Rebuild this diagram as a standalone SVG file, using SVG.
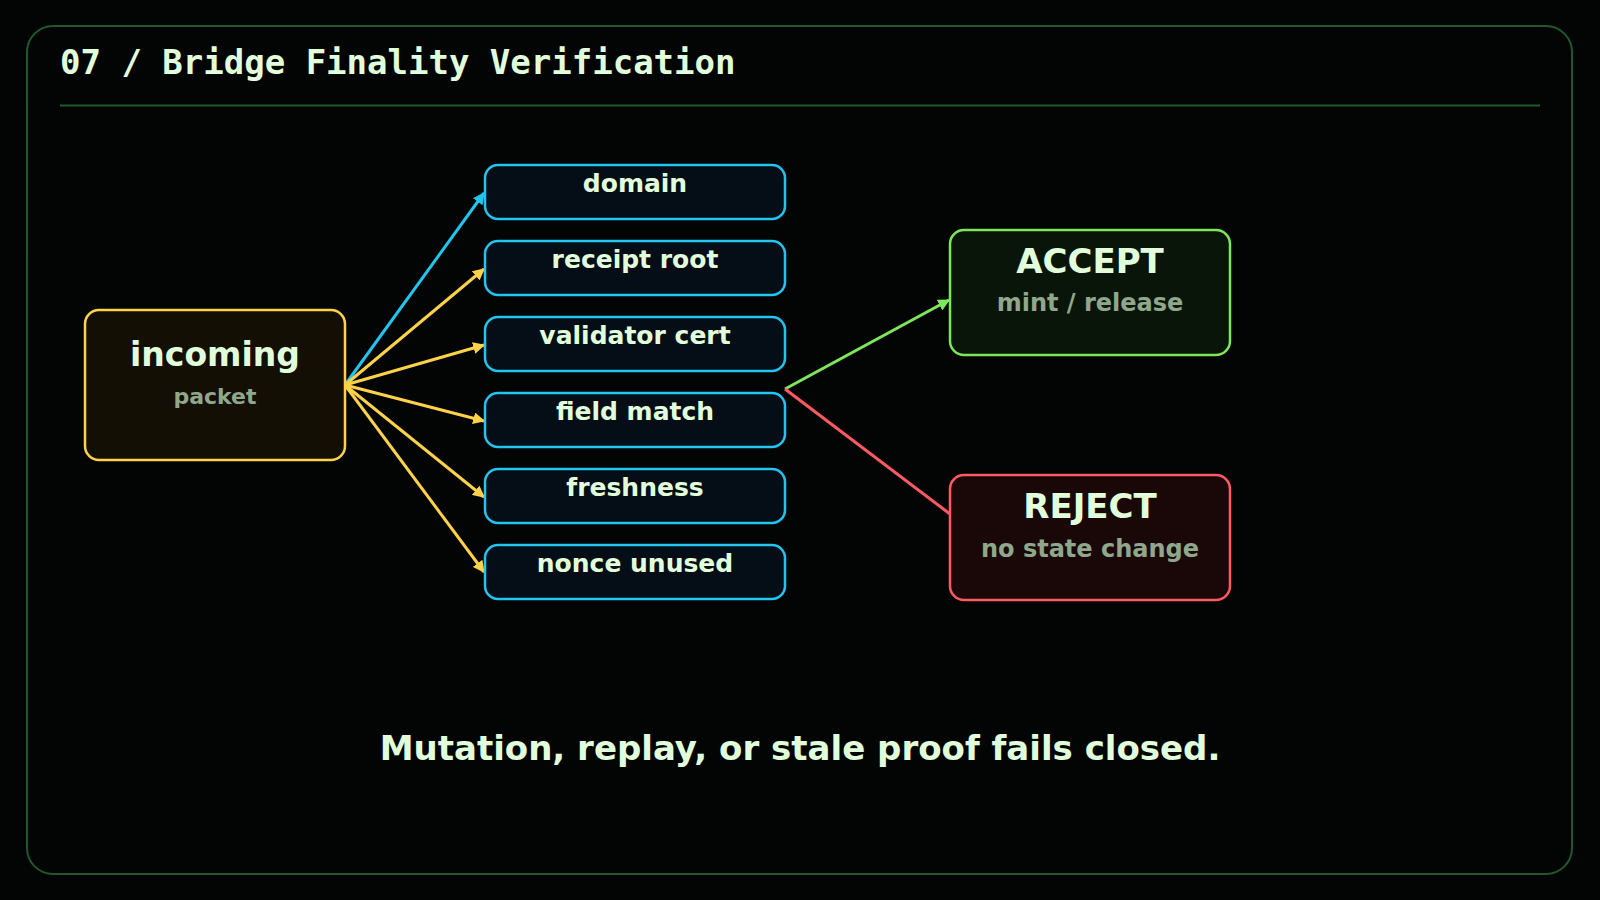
<svg xmlns="http://www.w3.org/2000/svg" width="1600" height="900" viewBox="0 0 1600 900">
<defs>
<style>
.t{font-family:"DejaVu Sans",Verdana,sans-serif;font-weight:bold;text-anchor:middle}
.main{fill:#e2ffdc}
.sub{fill:#8fa88c}
.chk rect{fill:#050e16;stroke:#22c4f0;stroke-width:2.5}
.edge{fill:none;stroke-width:3}
</style>
<marker id="ay" viewBox="0 0 10 10" refX="9" refY="5" markerWidth="4" markerHeight="4" orient="auto"><path d="M0,0 L10,5 L0,10 Z" fill="#ffd24a"/></marker>
<marker id="ac" viewBox="0 0 10 10" refX="9" refY="5" markerWidth="4" markerHeight="4" orient="auto"><path d="M0,0 L10,5 L0,10 Z" fill="#22c4f0"/></marker>
<marker id="ag" viewBox="0 0 10 10" refX="9" refY="5" markerWidth="4" markerHeight="4" orient="auto"><path d="M0,0 L10,5 L0,10 Z" fill="#7ee65a"/></marker>
</defs>
<rect width="1600" height="900" fill="#020503"/>
<rect x="27" y="26" width="1545" height="848" rx="26" fill="none" stroke="#1e5a2c" stroke-width="2"/>
<text x="60" y="74" font-family="'DejaVu Sans Mono',monospace" font-weight="bold" font-size="34" fill="#e2ffdc">07 / Bridge Finality Verification</text>
<line x1="60" y1="105.5" x2="1540" y2="105.5" stroke="#1e5a2c" stroke-width="2"/>

<g id="connectors">
<line class="edge" x1="345" y1="385" x2="484" y2="193" stroke="#22c4f0" marker-end="url(#ac)"/>
<line class="edge" x1="345" y1="385" x2="484" y2="269" stroke="#ffd24a" marker-end="url(#ay)"/>
<line class="edge" x1="345" y1="385" x2="484" y2="345" stroke="#ffd24a" marker-end="url(#ay)"/>
<line class="edge" x1="345" y1="385" x2="484" y2="421" stroke="#ffd24a" marker-end="url(#ay)"/>
<line class="edge" x1="345" y1="385" x2="484" y2="497" stroke="#ffd24a" marker-end="url(#ay)"/>
<line class="edge" x1="345" y1="385" x2="484" y2="572" stroke="#ffd24a" marker-end="url(#ay)"/>
<line class="edge" x1="785" y1="389" x2="949" y2="300" stroke="#7ee65a" marker-end="url(#ag)"/>
<line class="edge" x1="785" y1="389" x2="950" y2="514" stroke="#ff5a64"/>
</g>

<g id="incoming">
<rect x="85" y="310" width="260" height="150" rx="14" fill="#140f05" stroke="#ffd24a" stroke-width="2.5"/>
<text class="t main" x="215" y="366" font-size="33">incoming</text>
<text class="t sub" x="215" y="404" font-size="22">packet</text>
</g>

<g id="domain" class="chk"><rect x="485" y="165" width="300" height="54" rx="13"/><text class="t main" x="635" y="192" font-size="25">domain</text></g>
<g id="receipt-root" class="chk"><rect x="485" y="241" width="300" height="54" rx="13"/><text class="t main" x="635" y="268" font-size="25">receipt root</text></g>
<g id="validator-cert" class="chk"><rect x="485" y="317" width="300" height="54" rx="13"/><text class="t main" x="635" y="344" font-size="25">validator cert</text></g>
<g id="field-match" class="chk"><rect x="485" y="393" width="300" height="54" rx="13"/><text class="t main" x="635" y="420" font-size="25">field match</text></g>
<g id="freshness" class="chk"><rect x="485" y="469" width="300" height="54" rx="13"/><text class="t main" x="635" y="496" font-size="25">freshness</text></g>
<g id="nonce-unused" class="chk"><rect x="485" y="545" width="300" height="54" rx="13"/><text class="t main" x="635" y="572" font-size="25">nonce unused</text></g>

<g id="accept">
<rect x="950" y="230" width="280" height="125" rx="14" fill="#0a150a" stroke="#7ee65a" stroke-width="2.5"/>
<text class="t main" x="1090" y="273" font-size="34">ACCEPT</text>
<text class="t sub" x="1090" y="311" font-size="24">mint / release</text>
</g>

<g id="reject">
<rect x="950" y="475" width="280" height="125" rx="14" fill="#1a0808" stroke="#ff5a64" stroke-width="2.5"/>
<text class="t main" x="1090" y="518" font-size="34">REJECT</text>
<text class="t sub" x="1090" y="557" font-size="24">no state change</text>
</g>

<text class="t main" x="800" y="760" font-size="34">Mutation, replay, or stale proof fails closed.</text>
</svg>
